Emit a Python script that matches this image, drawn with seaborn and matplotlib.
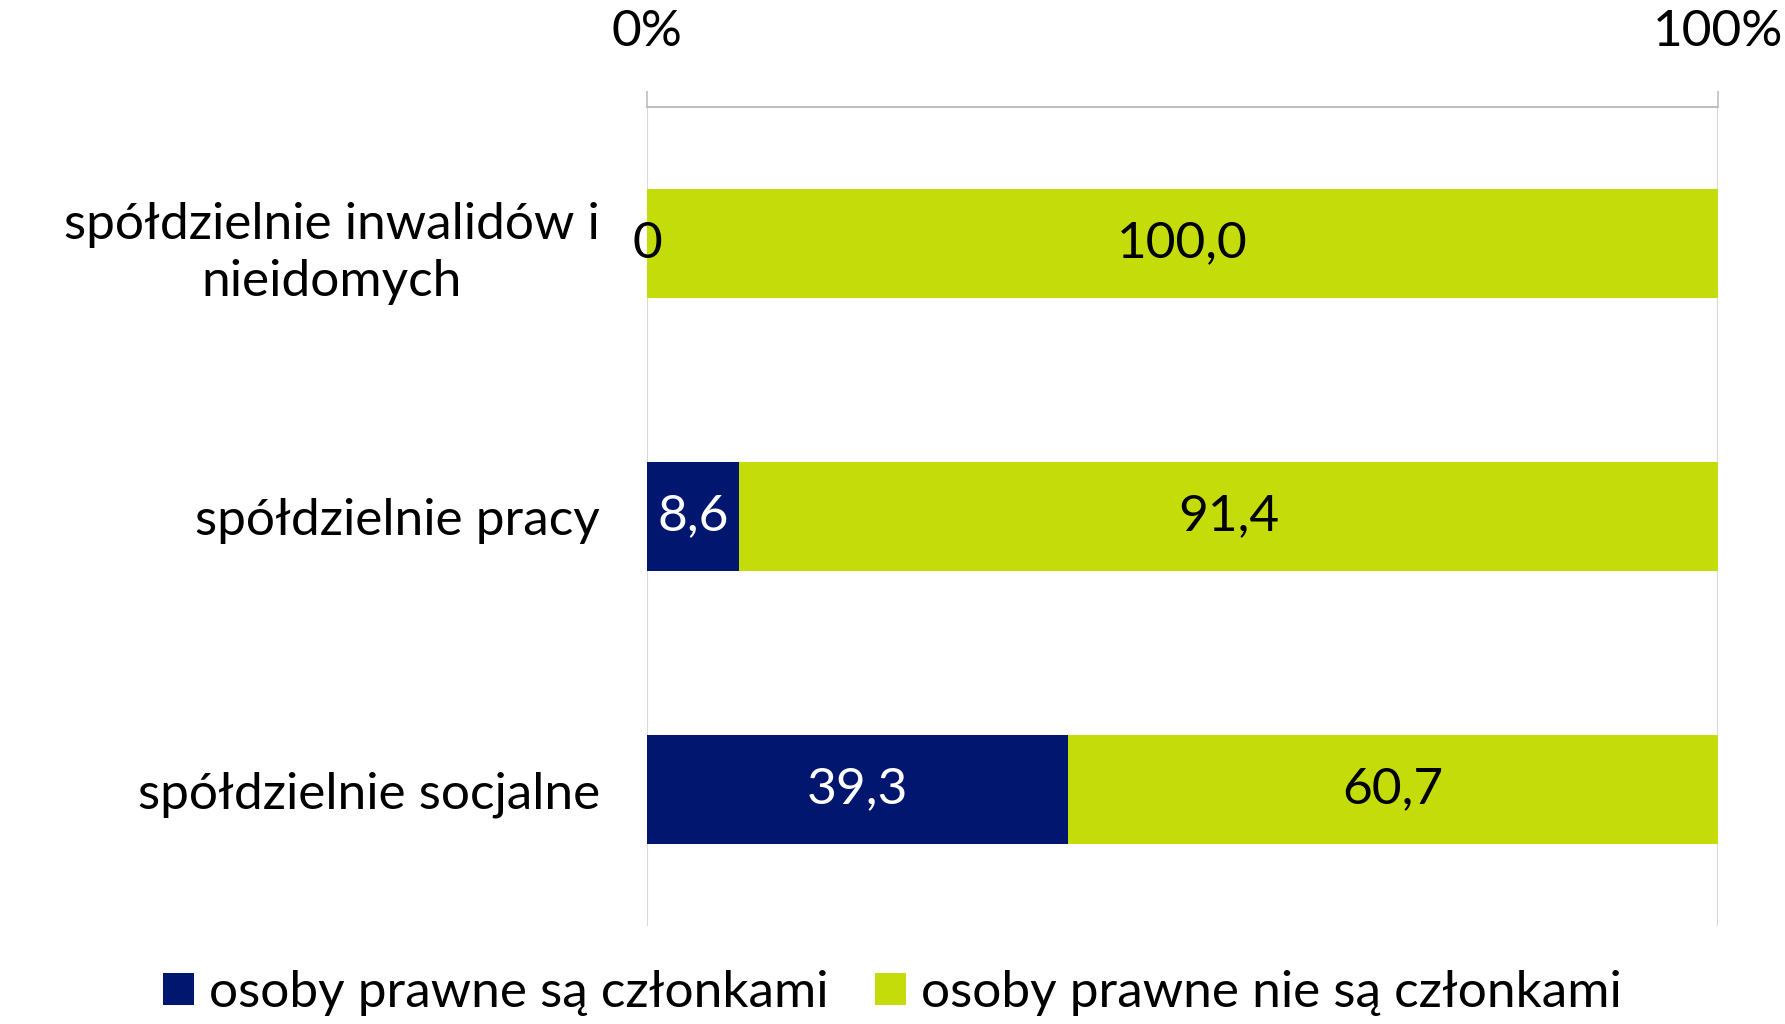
import matplotlib
matplotlib.use("Agg")
import matplotlib.pyplot as plt
import pandas as pd
import seaborn as sns
from matplotlib.patches import Patch

categories = ["spółdzielnie inwalidów i\nnieidomych", "spółdzielnie pracy", "spółdzielnie socjalne"]
members = [0.0, 8.6, 39.3]
non_members = [100.0, 91.4, 60.7]
value_labels_members = ["0", "8,6", "39,3"]
value_labels_non = ["100,0", "91,4", "60,7"]
series_names = ["osoby prawne są członkami", "osoby prawne nie są członkami"]

NAVY = "#00166f"
LIME = "#c5dc0b"
FS = 37

sns.set_theme(style="white")
plt.rcParams["font.family"] = ["Lato", "DejaVu Sans"]
plt.rcParams["text.color"] = "black"

df = pd.DataFrame({"cat": categories, "members": members, "non": non_members})
df["total"] = df["members"] + df["non"]

fig = plt.figure(figsize=(17.85, 10.24), dpi=100)
ax = fig.add_axes([0.3625, 0.0957, 0.6, 0.7998])

# stacked bars: full length in lime, members overlay in navy
sns.barplot(data=df, x="total", y="cat", orient="h", color=LIME, width=0.4,
            saturation=1, linewidth=0, ax=ax, zorder=2)
sns.barplot(data=df, x="members", y="cat", orient="h", color=NAVY, width=0.4,
            saturation=1, linewidth=0, ax=ax, zorder=3)

for i, row in df.iterrows():
    m, n = row["members"], row["non"]
    ax.text(m / 2, i, value_labels_members[i], ha="center", va="center",
            fontsize=FS, color="white" if m > 0 else "black", zorder=4)
    ax.text(m + n / 2, i, value_labels_non[i], ha="center", va="center",
            fontsize=FS, color="black", zorder=4)

ax.set_xlim(0, 100)
ax.set_ylim(2.5, -0.5)
ax.set_xlabel("")
ax.set_ylabel("")

ax.xaxis.tick_top()
ax.set_xticks([0, 100])
ax.set_xticklabels(["0%", "100%"])
ax.tick_params(axis="x", top=True, direction="out", length=11.5, width=1.2,
               color="#bfbfbf", pad=26, labelsize=FS, labelcolor="black")
ax.tick_params(axis="y", left=False, pad=28, labelsize=FS, labelcolor="black")
for lbl in ax.get_yticklabels():
    lbl.set_multialignment("center")
    lbl.set_linespacing(1.3)

for side in ["right", "bottom", "left"]:
    ax.spines[side].set_visible(False)
ax.spines["top"].set_color("#bfbfbf")
ax.spines["top"].set_linewidth(1.5)

for x in [0, 100]:
    ax.axvline(x, color="#d9d9d9", lw=1.5, zorder=1)

handles = [Patch(facecolor=NAVY, edgecolor="none"), Patch(facecolor=LIME, edgecolor="none")]
fig.legend(handles, series_names, loc="center", bbox_to_anchor=(0.5, 0.03), ncol=2,
           frameon=False, fontsize=FS, handlelength=0.6, handleheight=0.6,
           handletextpad=0.3, columnspacing=0.9)

fig.savefig("out.png", dpi=100)
